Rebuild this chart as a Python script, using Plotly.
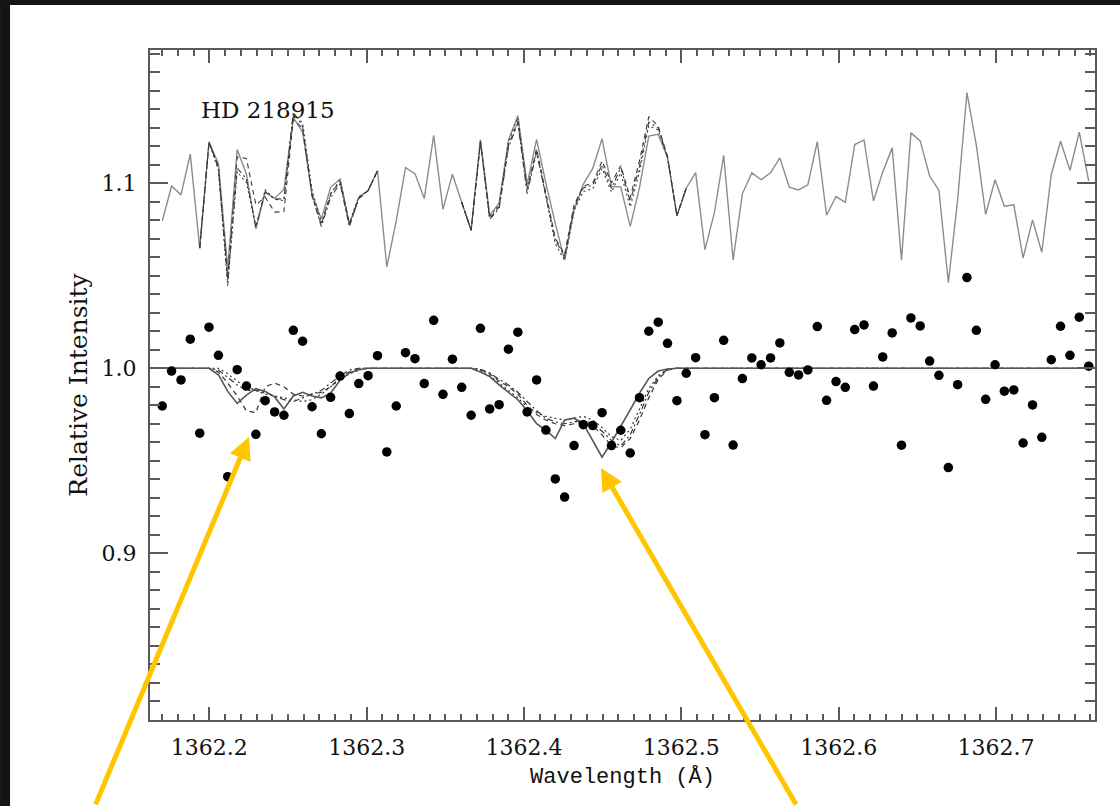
import plotly.graph_objects as go

# ---------------- data ----------------
WAVELENGTH = [
    1362.1701, 1362.1760, 1362.1820, 1362.1879, 1362.1939, 1362.1998, 1362.2058, 1362.2117, 1362.2177, 1362.2236,
    1362.2296, 1362.2355, 1362.2415, 1362.2474, 1362.2534, 1362.2593, 1362.2653, 1362.2712, 1362.2771, 1362.2831,
    1362.2890, 1362.2950, 1362.3009, 1362.3069, 1362.3128, 1362.3188, 1362.3247, 1362.3307, 1362.3366, 1362.3426,
    1362.3485, 1362.3545, 1362.3604, 1362.3664, 1362.3723, 1362.3782, 1362.3842, 1362.3901, 1362.3961, 1362.4020,
    1362.4080, 1362.4139, 1362.4199, 1362.4258, 1362.4318, 1362.4377, 1362.4437, 1362.4496, 1362.4556, 1362.4615,
    1362.4675, 1362.4734, 1362.4793, 1362.4853, 1362.4912, 1362.4972, 1362.5031, 1362.5091, 1362.5150, 1362.5210,
    1362.5269, 1362.5329, 1362.5388, 1362.5448, 1362.5507, 1362.5567, 1362.5626, 1362.5686, 1362.5745, 1362.5804,
    1362.5864, 1362.5923, 1362.5983, 1362.6042, 1362.6102, 1362.6161, 1362.6221, 1362.6280, 1362.6340, 1362.6399,
    1362.6459, 1362.6518, 1362.6578, 1362.6637, 1362.6697, 1362.6756, 1362.6815, 1362.6875, 1362.6934, 1362.6994,
    1362.7053, 1362.7113, 1362.7172, 1362.7232, 1362.7291, 1362.7351, 1362.7410, 1362.7470, 1362.7529, 1362.7589,
]

FLUX = [
    0.9796, 0.9985, 0.9937, 1.0157, 0.9649, 1.0222, 1.0070, 0.9414, 0.9992, 0.9904,
    0.9643, 0.9825, 0.9764, 0.9746, 1.0205, 1.0146, 0.9792, 0.9646, 0.9843, 0.9958,
    0.9755, 0.9917, 0.9960, 1.0068, 0.9548, 0.9796, 1.0084, 1.0052, 0.9917, 1.0259,
    0.9859, 1.0049, 0.9897, 0.9746, 1.0216, 0.9780, 0.9803, 1.0103, 1.0195, 0.9764,
    0.9937, 0.9666, 0.9402, 0.9304, 0.9582, 0.9695, 0.9690, 0.9760, 0.9582, 0.9665,
    0.9542, 0.9841, 1.0200, 1.0249, 1.0135, 0.9825, 0.9973, 1.0057, 0.9641, 0.9841,
    1.0151, 0.9585, 0.9944, 1.0056, 1.0019, 1.0056, 1.0137, 0.9978, 0.9964, 0.9991,
    1.0225, 0.9827, 0.9928, 0.9897, 1.0209, 1.0234, 0.9904, 1.0061, 1.0191, 0.9584,
    1.0272, 1.0229, 1.0039, 0.9962, 0.9463, 0.9911, 1.0490, 1.0205, 0.9832, 1.0019,
    0.9876, 0.9883, 0.9596, 0.9802, 0.9627, 1.0046, 1.0227, 1.0070, 1.0276, 1.0011,
]

# absorption-model profiles, first feature (samples 5-22) and second feature (samples 33-55)
SOLID_F1 = [1.000, 0.9965, 0.9875, 0.981, 0.9855, 0.989, 0.9875, 0.9845, 0.978, 0.985,
            0.987, 0.985, 0.984, 0.9865, 0.9935, 0.9975, 0.9992, 1.000]
DASH_F1 = [1.000, 0.998, 0.992, 0.985, 0.977, 0.976, 0.990, 0.992, 0.990, 0.986,
           0.985, 0.986, 0.987, 0.990, 0.995, 0.998, 1.000, 1.000]
DASHDOT_F1 = [1.000, 0.999, 0.995, 0.991, 0.988, 0.988, 0.987, 0.985, 0.983, 0.982,
              0.984, 0.986, 0.988, 0.992, 0.996, 0.999, 1.000, 1.000]
DOT_F1 = [1.000, 1.000, 0.997, 0.993, 0.990, 0.988, 0.986, 0.985, 0.984, 0.983,
          0.982, 0.983, 0.986, 0.990, 0.994, 0.997, 0.999, 1.000]

SOLID_F2 = [1.000, 0.998, 0.9955, 0.991, 0.987, 0.983, 0.977, 0.970, 0.9665, 0.962, 0.972, 0.973,
            0.970, 0.961, 0.952, 0.960, 0.9685, 0.9775, 0.9865, 0.9945, 0.9985, 0.9996, 1.000]
DASH_F2 = [1.000, 0.999, 0.997, 0.993, 0.990, 0.986, 0.980, 0.975, 0.972, 0.970, 0.969, 0.970,
           0.971, 0.969, 0.964, 0.958, 0.957, 0.962, 0.972, 0.984, 0.994, 0.999, 1.000]
DASHDOT_F2 = [1.000, 0.9995, 0.9975, 0.994, 0.991, 0.987, 0.982, 0.977, 0.973, 0.971, 0.970, 0.971,
              0.972, 0.970, 0.966, 0.961, 0.958, 0.964, 0.975, 0.987, 0.995, 0.9995, 1.000]
DOT_F2 = [1.000, 0.999, 0.996, 0.992, 0.988, 0.984, 0.979, 0.976, 0.974, 0.973, 0.972, 0.973,
          0.974, 0.972, 0.968, 0.963, 0.961, 0.967, 0.978, 0.989, 0.996, 0.9995, 1.000]

CONTINUUM = 1.0
RESIDUAL_OFFSET = 1.1
STAR = "HD 218915"
X_TICKS = [1362.2, 1362.3, 1362.4, 1362.5, 1362.6, 1362.7]
Y_TICKS = [0.9, 1.0, 1.1]


def full_model(f1, f2):
    return ([CONTINUUM] * 5 + f1 + [CONTINUUM] * 10 + f2 + [CONTINUUM] * 44)


models = {
    "solid": full_model(SOLID_F1, SOLID_F2),
    "dash": full_model(DASH_F1, DASH_F2),
    "dashdot": full_model(DASHDOT_F1, DASHDOT_F2),
    "dot": full_model(DOT_F1, DOT_F2),
}
dash_style = {"solid": "solid", "dash": "5px,4px", "dashdot": "6px,3px,2px,3px", "dot": "2px,3px"}

fig = go.Figure()

# residual line (data - model + offset)
res_solid = [f - m + RESIDUAL_OFFSET for f, m in zip(FLUX, models["solid"])]
fig.add_trace(go.Scatter(x=WAVELENGTH, y=res_solid, mode="lines",
                         line=dict(color="#8c8c8c", width=1.4), hoverinfo="skip"))
regions = [(4, 24), (32, 57)]
for name in ["dash", "dashdot", "dot"]:
    res = [f - m + RESIDUAL_OFFSET for f, m in zip(FLUX, models[name])]
    for a, b in regions:
        fig.add_trace(go.Scatter(x=WAVELENGTH[a:b], y=res[a:b], mode="lines",
                                 line=dict(color="#3a3a3a", width=1.1, dash=dash_style[name]),
                                 hoverinfo="skip"))

# model lines
for name in ["dot", "dashdot", "dash"]:
    fig.add_trace(go.Scatter(x=WAVELENGTH, y=models[name], mode="lines",
                             line=dict(color="#333333", width=1.2, dash=dash_style[name]),
                             hoverinfo="skip"))
fig.add_trace(go.Scatter(x=WAVELENGTH, y=models["solid"], mode="lines",
                         line=dict(color="#555555", width=1.6), hoverinfo="skip"))

# data points
fig.add_trace(go.Scatter(x=WAVELENGTH, y=FLUX, mode="markers",
                         marker=dict(color="black", size=9.5, line=dict(width=0)),
                         hoverinfo="skip"))

axis_common = dict(
    showline=True, linecolor="#5a5a5a", linewidth=2, mirror="allticks",
    ticks="inside", tickcolor="#5a5a5a", tickwidth=2,
    showgrid=False, zeroline=False, tickformat=".1f",
    tickfont=dict(family="DejaVu Serif", size=22, color="#111111"),
)

fig.update_layout(
    width=1120, height=806,
    margin=dict(l=150, r=25, t=50, b=86),
    paper_bgcolor="white", plot_bgcolor="white",
    showlegend=False,
    xaxis=dict(
        range=[1362.1623, 1362.7629], tickvals=X_TICKS, ticklen=13,
        minor=dict(dtick=0.01, tick0=1362.2, ticks="inside", ticklen=6,
                   tickcolor="#5a5a5a", tickwidth=1.5),
        ticklabelstandoff=7,
        title=dict(text="Wavelength (Å)", standoff=8,
                   font=dict(family="Liberation Mono", size=22, color="#111111")),
        **axis_common,
    ),
    yaxis=dict(
        range=[0.8099, 1.172], tickvals=Y_TICKS, ticklen=18,
        minor=dict(dtick=0.01, tick0=0.9, ticks="inside", ticklen=10,
                   tickcolor="#5a5a5a", tickwidth=1.5),
        ticklabelstandoff=7,
        title=dict(text="Relative Intensity", standoff=7,
                   font=dict(family="DejaVu Serif", size=25, color="#111111")),
        **axis_common,
    ),
    annotations=[
        dict(x=1362.1935, y=1.1396, xref="x", yref="y", text=STAR, showarrow=False,
             xanchor="left", yanchor="middle",
             font=dict(family="DejaVu Serif", size=23, color="#111111")),
        dict(x=1362.2252, y=0.9629, xref="x", yref="y", text="", showarrow=True,
             ax=-154, ay=369, arrowhead=2, arrowsize=0.9, arrowwidth=5,
             arrowcolor="#FFC600", standoff=0),
        dict(x=1362.4489, y=0.9461, xref="x", yref="y", text="", showarrow=True,
             ax=196, ay=338, arrowhead=2, arrowsize=0.9, arrowwidth=5,
             arrowcolor="#FFC600", standoff=0),
    ],
    shapes=[
        dict(type="rect", xref="paper", yref="paper", x0=-0.1587, x1=-0.1481,
             y0=-0.13, y1=1.08, fillcolor="#151515", line=dict(width=0), layer="above"),
        dict(type="rect", xref="paper", yref="paper", x0=-0.1587, x1=1.03,
             y0=1.0672, y1=1.08, fillcolor="#151515", line=dict(width=0), layer="above"),
    ],
)

fig.write_html("out.html")
